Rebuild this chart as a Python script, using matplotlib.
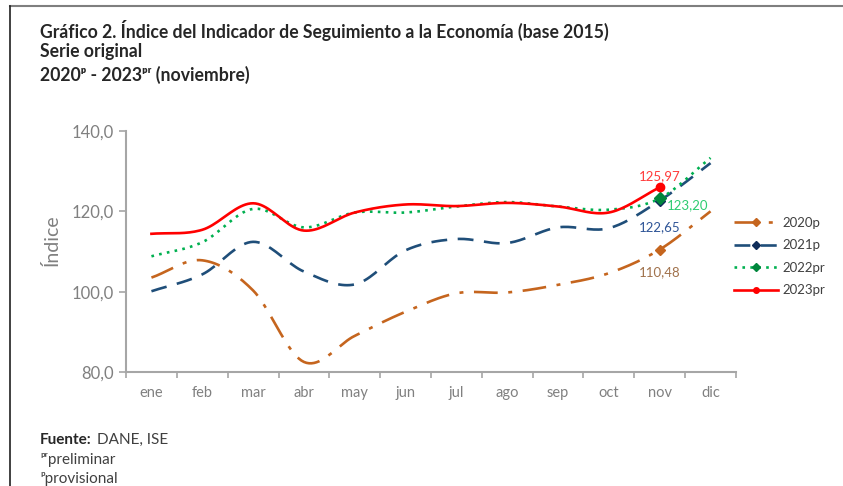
import numpy as np
import matplotlib
matplotlib.use("Agg")
import matplotlib.pyplot as plt
from matplotlib.lines import Line2D

plt.rcParams['font.family'] = ['Lato', 'DejaVu Sans']

meses = ["ene", "feb", "mar", "abr", "may", "jun", "jul", "ago", "sep", "oct", "nov", "dic"]
s2020 = [103.5, 107.8, 100.3, 82.5, 89.0, 95.0, 99.6, 99.8, 101.7, 104.6, 110.48, 120.0]
s2021 = [100.1, 104.3, 112.4, 105.0, 101.8, 110.3, 113.1, 112.1, 116.0, 115.8, 122.65, 132.0]
s2022 = [108.8, 112.3, 120.6, 116.0, 119.7, 119.7, 121.2, 122.3, 121.2, 120.4, 123.20, 133.3]
s2023 = [114.4, 115.4, 122.0, 115.2, 119.7, 121.7, 121.3, 122.1, 121.2, 119.7, 125.97]
series_names = ["2020p", "2021p", "2022pr", "2023pr"]
label_texts = ["110,48", "122,65", "123,20", "125,97"]


def smooth(y, n=20):
    """Catmull-Rom spline through the points (rendering only)."""
    y = np.asarray(y, float)
    x = np.arange(len(y), dtype=float)
    px = np.concatenate([[2 * x[0] - x[1]], x, [2 * x[-1] - x[-2]]])
    py = np.concatenate([[2 * y[0] - y[1]], y, [2 * y[-1] - y[-2]]])
    xs, ys = [], []
    for i in range(1, len(px) - 2):
        t = np.linspace(0, 1, n, endpoint=False)
        for arr, out in ((px, xs), (py, ys)):
            p0, p1, p2, p3 = arr[i - 1], arr[i], arr[i + 1], arr[i + 2]
            out.extend(0.5 * ((2 * p1) + (-p0 + p2) * t + (2 * p0 - 5 * p1 + 4 * p2 - p3) * t ** 2
                              + (-p0 + 3 * p1 - 3 * p2 + p3) * t ** 3))
    xs.append(x[-1]); ys.append(y[-1])
    return np.array(xs), np.array(ys)


fig = plt.figure(figsize=(8.43, 4.86), dpi=100)
ax = fig.add_axes([0.1495, 0.2346, 0.7235, 0.4959])

styles = [
    dict(color="#C5651E", ls=(0, (9, 4, 1.5, 4)), lw=1.9, marker="D", ms=5),
    dict(color="#1F4E79", ls=(0, (6, 4)), lw=1.9, marker="D", ms=5),
    dict(color="#00B050", ls=(0, (1, 2)), lw=1.9, marker="D", ms=6),
    dict(color="#FF0000", ls="-", lw=1.9, marker="o", ms=6),
]
marker_colors = ["#C5651E", "#0F2D5A", "#00863C", "#FF0000"]
text_colors = ["#A0714B", "#2F5597", "#2ECC71", "#FF3B3B"]
text_off = [(0, -16), (0, -19), (20, -5), (0, 8)]

all_series = [s2020, s2021, s2022, s2023]
handles = []
for k, s in enumerate(all_series):
    st = styles[k]
    xs, ys = smooth(s)
    ax.plot(xs, ys, color=st["color"], ls=st["ls"], lw=st["lw"], zorder=3 + k)
    ax.plot([10], [s[10]], marker=st["marker"], ms=st["ms"], color=marker_colors[k],
            ls="none", zorder=10)
    ax.annotate(label_texts[k], (10, s[10]), xytext=text_off[k], textcoords="offset points",
                ha="center", va="center", color=text_colors[k], fontsize=9.5)
    handles.append(Line2D([0], [0], color=st["color"], ls=st["ls"], lw=st["lw"],
                          marker=st["marker"], ms=4, markevery=[1],
                          markerfacecolor=marker_colors[k], markeredgecolor=marker_colors[k]))

ax.set_xlim(-0.5, 11.5)
ax.set_ylim(80, 140)
ax.set_yticks([80, 100, 120, 140])
ax.set_yticklabels(["80,0", "100,0", "120,0", "140,0"])
ax.set_xticks(np.arange(-0.5, 12, 1))
ax.set_xticklabels([])
ax.set_xticks(np.arange(12), minor=True)
ax.set_xticklabels(meses, minor=True)
ax.tick_params(axis="x", which="minor", length=0, pad=10, labelsize=10.5, labelcolor="#808080")
ax.tick_params(axis="x", which="major", length=4, color="#A6A6A6", width=1.2)
ax.tick_params(axis="y", length=5, color="#A6A6A6", width=1.2, labelsize=12,
               labelcolor="#808080", pad=4)
for sp in ["top", "right"]:
    ax.spines[sp].set_visible(False)
for sp in ["left", "bottom"]:
    ax.spines[sp].set_color("#A6A6A6")
    ax.spines[sp].set_linewidth(1.5)
ax.set_ylabel("Índice", color="#808080", fontsize=14)
ax.yaxis.set_label_coords(-0.108, 0.545)

leg = fig.legend(handles, series_names, loc="upper left", bbox_to_anchor=(0.864, 0.565),
                 frameon=False, fontsize=9.5, handlelength=3.4, labelspacing=0.8,
                 handletextpad=0.3, borderaxespad=0)
for t in leg.get_texts():
    t.set_color("#404040")

tc = "#262626"
fig.text(40 / 843, 1 - 30 / 486, "Gráfico 2. Índice del Indicador de Seguimiento a la Economía (base 2015)",
         fontsize=12.7, fontweight="bold", color=tc, va="center")
fig.text(40 / 843, 1 - 52 / 486, "Serie original", fontsize=12.7, fontweight="bold", color=tc, va="center")
fig.text(40 / 843, 1 - 75 / 486, "2020ᵖ - 2023ᵖʳ (noviembre)", fontsize=12.7, fontweight="bold",
         color=tc, va="center")

fig.text(40 / 843, 1 - 440 / 486, "Fuente:", fontsize=11, fontweight="bold", color=tc, va="center")
fig.text(97 / 843, 1 - 440 / 486, "DANE, ISE", fontsize=11, color="#404040", va="center")
fig.text(40 / 843, 1 - 460 / 486, "ᵖʳpreliminar", fontsize=11, color="#404040", va="center")
fig.text(40 / 843, 1 - 479 / 486, "ᵖprovisional", fontsize=11, color="#404040", va="center")

fig.add_artist(Line2D([10 / 843, 1], [1 - 6 / 486, 1 - 6 / 486], color="#7F7F7F", lw=1.5,
                      transform=fig.transFigure))
fig.add_artist(Line2D([10 / 843, 10 / 843], [1 - 6 / 486, 0], color="#202020", lw=1.2,
                      transform=fig.transFigure))

fig.savefig("out.png", dpi=100)
